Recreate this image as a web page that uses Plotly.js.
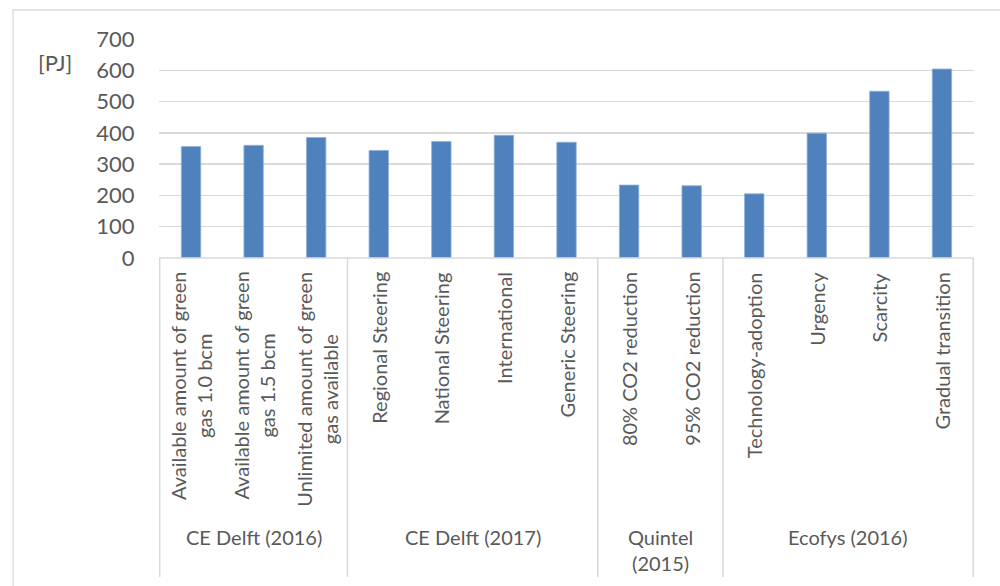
<!DOCTYPE html>
<html>
<head>
<meta charset="utf-8">
<script src="https://cdn.plot.ly/plotly-3.0.1.min.js"></script>
<style>html,body{margin:0;padding:0;background:#fff;}#chart{width:1000px;height:586px;}</style>
</head>
<body>
<div id="chart"></div>
<script>
// ---- data ----
const categories = [
  "Available amount of green gas 1.0 bcm",
  "Available amount of green gas 1.5 bcm",
  "Unlimited amount of green gas available",
  "Regional Steering",
  "National Steering",
  "International",
  "Generic Steering",
  "80% CO2 reduction",
  "95% CO2 reduction",
  "Technology-adoption",
  "Urgency",
  "Scarcity",
  "Gradual transition"
];
const tickLabels = [
  "Available amount of green<br>gas 1.0 bcm",
  "Available amount of green<br>gas 1.5 bcm",
  "Unlimited amount of green<br>gas available",
  "Regional Steering",
  "National Steering",
  "International",
  "Generic Steering",
  "80% CO2 reduction",
  "95% CO2 reduction",
  "Technology-adoption",
  "Urgency",
  "Scarcity",
  "Gradual transition"
];
const values = [356, 360, 385, 344, 372, 392, 370, 233, 231, 205, 399, 533, 604];
const groupNames = ["CE Delft (2016)", "CE Delft (2017)", "Quintel<br>(2015)", "Ecofys (2016)"];
const groupSizes = [3, 4, 2, 4];
const yUnit = "[PJ]";

// ---- layout helpers ----
const W = 1000, H = 586;
const M = {l: 159, r: 26, t: 39, b: 328};
const pw = W - M.l - M.r, ph = H - M.t - M.b;
const px2x = p => (p - M.l) / pw;
const py2y = p => (H - M.b - p) / ph;
const FONT = "Lato, 'Liberation Sans', sans-serif";
const TXT = "#595959";
const LINE = "#d9d9d9";

const annotations = [];
const shapes = [];

// category labels (rotated)
categories.forEach((c, i) => {
  annotations.push({
    x: i, xref: "x", y: 0, yref: "paper",
    text: tickLabels[i], showarrow: false,
    textangle: -90, xanchor: "center", yanchor: "top",
    align: "center", yshift: -12,
    font: {family: FONT, size: 20, color: TXT}
  });
});

// group labels and separators
let start = 0;
const bounds = [-0.5];
groupSizes.forEach((n, g) => {
  const center = start + (n - 1) / 2;
  annotations.push({
    x: center, xref: "x", y: 0, yref: "paper",
    text: groupNames[g], showarrow: false,
    xanchor: "center", yanchor: "top", yshift: -265,
    align: "center",
    font: {family: FONT, size: 20, color: TXT}
  });
  start += n;
  bounds.push(start - 0.5);
});
bounds.forEach(b => {
  shapes.push({type: "line", xref: "x", yref: "paper",
    x0: b, x1: b, y0: 0, y1: py2y(577),
    line: {color: LINE, width: 1.5}});
});
// baseline
shapes.push({type: "line", xref: "paper", yref: "paper",
  x0: 0, x1: 1, y0: 0, y1: 0, line: {color: LINE, width: 1.5}});
// outer frame (left and top)
shapes.push({type: "line", xref: "paper", yref: "paper",
  x0: px2x(13), x1: px2x(13), y0: py2y(10), y1: py2y(590), line: {color: LINE, width: 1.3}});
shapes.push({type: "line", xref: "paper", yref: "paper",
  x0: px2x(13), x1: px2x(1005), y0: py2y(10), y1: py2y(10), line: {color: LINE, width: 1.3}});

// unit label
annotations.push({
  x: px2x(55), xref: "paper", y: py2y(62), yref: "paper",
  text: yUnit, showarrow: false, xanchor: "center", yanchor: "middle",
  font: {family: FONT, size: 22, color: TXT}
});

const trace = {
  type: "bar", x: categories, y: values,
  marker: {color: "#4f81bd", line: {color: "#8eb0da", width: 0.8}},
  hoverinfo: "x+y"
};

const layout = {
  width: W, height: H, margin: M,
  paper_bgcolor: "#fff", plot_bgcolor: "#fff",
  showlegend: false, bargap: 0.69,
  xaxis: {type: "category", showticklabels: false, showgrid: false,
    zeroline: false, showline: false, ticks: "", fixedrange: true},
  yaxis: {range: [0, 700], dtick: 100, showgrid: true, gridcolor: LINE, gridwidth: 1.5,
    zeroline: false, showline: false, ticks: "outside", ticklen: 19,
    tickcolor: "rgba(0,0,0,0)",
    tickfont: {family: FONT, size: 22, color: TXT}, fixedrange: true},
  annotations: annotations, shapes: shapes
};

Plotly.newPlot("chart", [trace], layout, {displayModeBar: false, staticPlot: true});
</script>
</body>
</html>
